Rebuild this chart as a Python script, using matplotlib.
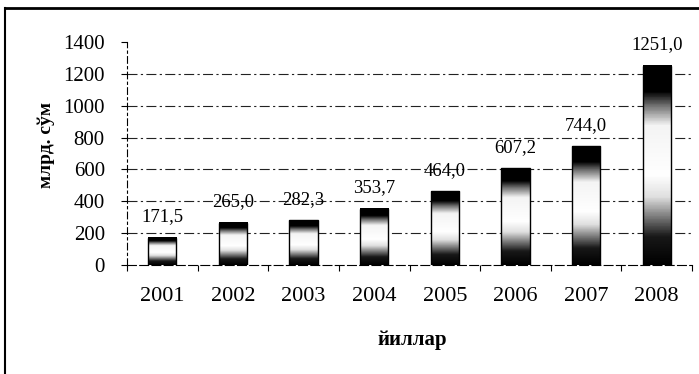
import numpy as np
import matplotlib.pyplot as plt
from matplotlib.colors import LinearSegmentedColormap
from matplotlib.patches import Rectangle

years = ['2001', '2002', '2003', '2004', '2005', '2006', '2007', '2008']
values = [171.5, 265.0, 282.3, 353.7, 464.0, 607.2, 744.0, 1251.0]
value_labels = ['171,5', '265,0', '282,3', '353,7', '464,0', '607,2', '744,0', '1251,0']

plt.rcParams['font.family'] = ['Liberation Serif', 'DejaVu Serif']

fig = plt.figure(figsize=(6.99, 3.74), dpi=100)
ax = fig.add_axes([0.1817, 0.2914, 0.8083, 0.5963])

# bottom -> top: black, fade to white, white, back to black at the top
cmap = LinearSegmentedColormap.from_list('bar', [
    (0.0, 'black'), (0.14, '#181818'), (0.34, '#e0e0e0'), (0.45, 'white'),
    (0.70, '#f4f4f4'), (0.80, '#707070'), (0.87, 'black'), (1.0, 'black')])
grad = np.linspace(1, 0, 200).reshape(-1, 1)

x = np.arange(len(years))
w = 0.4
for xi, v, lab in zip(x, values, value_labels):
    ax.imshow(grad, cmap=cmap, extent=[xi - w/2, xi + w/2, 0, v],
              aspect='auto', zorder=3, interpolation='bilinear')
    ax.add_patch(Rectangle((xi - w/2, 0), w, v, fill=False, ec='black', lw=1.0, zorder=4))
    ax.text(xi, v + 78, lab, ha='center', va='bottom', fontsize=13.5, zorder=5)

ax.set_xlim(-0.5, len(years) - 0.5)
ax.set_ylim(0, 1400)
ax.set_yticks(np.arange(0, 1401, 200))
ax.set_xticks(x)
ax.set_xticklabels(years)
ax.set_xticks(np.arange(-0.5, len(years)), minor=True)
ax.tick_params(axis='x', which='major', length=0, pad=16, labelsize=16)
ax.tick_params(axis='x', which='minor', length=4, width=0.8)
ax.tick_params(axis='y', length=4, width=0.8, labelsize=15, pad=12)

# gridlines 200..1200 (none at the top value)
for yv in np.arange(200, 1201, 200):
    ax.axhline(yv, color='#222222', lw=0.8, linestyle=(0, (9, 3, 2, 3)), zorder=1)
for s in ['top', 'right']:
    ax.spines[s].set_visible(False)
ax.spines['left'].set_linestyle((0, (6, 3, 2, 3)))
ax.spines['left'].set_linewidth(0.8)
ax.spines['bottom'].set_linestyle((0, (8, 3)))
ax.spines['bottom'].set_linewidth(0.8)

ax.set_ylabel('млрд. сўм', fontsize=14, fontweight='bold')
ax.yaxis.set_label_coords(-0.128, 0.54)
ax.set_xlabel('йиллар', fontsize=15, fontweight='bold')
ax.xaxis.set_label_coords(0.505, -0.29)

# outer frame of the scanned chart
fig.add_artist(plt.Line2D([5/699, 1], [1 - 8/374, 1 - 8/374], color='black', lw=2))
fig.add_artist(plt.Line2D([5/699, 5/699], [0, 1 - 8/374], color='black', lw=1.5))

plt.savefig('out.png', dpi=100)
